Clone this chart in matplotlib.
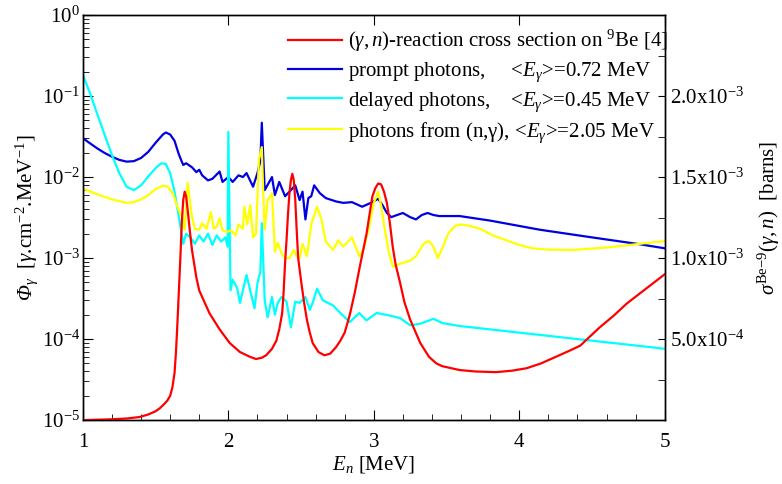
import matplotlib
matplotlib.use("Agg")
import matplotlib.pyplot as plt
from matplotlib.ticker import MultipleLocator, FixedLocator, LogLocator, NullFormatter

plt.rcParams["font.family"] = ["Liberation Serif", "DejaVu Serif"]
plt.rcParams["mathtext.fontset"] = "custom"
plt.rcParams["mathtext.rm"] = "Liberation Serif"
plt.rcParams["mathtext.it"] = "Liberation Serif:italic"
plt.rcParams["mathtext.bf"] = "Liberation Serif:bold"
plt.rcParams["mathtext.cal"] = "Liberation Serif:italic"

# prompt photons (left axis, gamma.cm^-2.MeV^-1)
E_prompt = [1.00, 1.05, 1.10, 1.15, 1.20, 1.25, 1.30, 1.35, 1.40, 1.45, 1.50, 1.55,
            1.57, 1.60, 1.63, 1.66, 1.68, 1.69, 1.71, 1.75, 1.78, 1.80, 1.82, 1.86,
            1.89, 1.94, 1.96, 2.00, 2.03, 2.07, 2.10, 2.125, 2.17, 2.20, 2.22, 2.23,
            2.25, 2.30, 2.32, 2.35, 2.39, 2.42, 2.46, 2.49, 2.51, 2.53, 2.55, 2.57,
            2.59, 2.63, 2.67, 2.74, 2.79, 2.85, 2.92, 2.99, 3.03, 3.06, 3.09, 3.12,
            3.16, 3.20, 3.25, 3.29, 3.33, 3.37, 3.41, 3.45, 3.59, 3.80, 4.14, 4.50,
            4.83, 5.00]
phi_prompt = [0.0302, 0.0260, 0.0225, 0.0198, 0.0178, 0.0163, 0.0155, 0.0157, 0.0172,
              0.0205, 0.0265, 0.0335, 0.0355, 0.0335, 0.0280, 0.0190, 0.0155, 0.0141,
              0.0148, 0.0132, 0.0115, 0.0123, 0.0105, 0.0091, 0.0095, 0.0117, 0.0087,
              0.0100, 0.0087, 0.0105, 0.0100, 0.0112, 0.0076, 0.0112, 0.0158, 0.0468,
              0.0069, 0.0100, 0.0060, 0.0087, 0.0058, 0.0066, 0.0079, 0.0052, 0.0066,
              0.0030, 0.0055, 0.0058, 0.0079, 0.0063, 0.0055, 0.0050, 0.0048, 0.0049,
              0.0043, 0.0049, 0.0054, 0.0045, 0.0036, 0.0032, 0.0034, 0.0036, 0.0032,
              0.0030, 0.0034, 0.0036, 0.0034, 0.0033, 0.0033, 0.0029, 0.00224, 0.0018,
              0.00148, 0.00132]

# delayed photons
E_delayed = [1.00, 1.05, 1.10, 1.15, 1.20, 1.25, 1.30, 1.35, 1.40, 1.45, 1.50, 1.54,
             1.57, 1.60, 1.63, 1.66, 1.69, 1.71, 1.74, 1.77, 1.80, 1.83, 1.86, 1.89,
             1.92, 1.95, 1.98, 1.995, 2.00, 2.015, 2.03, 2.06, 2.08, 2.125, 2.15, 2.18,
             2.20, 2.22, 2.23, 2.25, 2.27, 2.30, 2.32, 2.34, 2.365, 2.40, 2.43, 2.46,
             2.49, 2.53, 2.56, 2.58, 2.61, 2.65, 2.72, 2.77, 2.835, 2.90, 2.95, 3.02,
             3.11, 3.18, 3.25, 3.32, 3.41, 3.47, 3.59, 5.00]
phi_delayed = [0.182, 0.107, 0.059, 0.033, 0.0186, 0.0112, 0.0076, 0.0069, 0.0079,
               0.0102, 0.0129, 0.0148, 0.0145, 0.0112, 0.0066, 0.0032, 0.0015, 0.0020,
               0.00178, 0.0015, 0.0019, 0.0016, 0.0020, 0.00145, 0.0019, 0.0016, 0.0018,
               0.00138, 0.036, 0.00040, 0.00054, 0.00043, 0.00028, 0.00062, 0.00040,
               0.00024, 0.00049, 0.00068, 0.0027, 0.00030, 0.000186, 0.00033, 0.00020,
               0.00028, 0.00033, 0.00029, 0.00014, 0.00029, 0.00028, 0.00033, 0.00023,
               0.00028, 0.00042, 0.00030, 0.00026, 0.00021, 0.000162, 0.00021, 0.00017,
               0.00021, 0.000195, 0.000182, 0.000148, 0.000155, 0.000178, 0.000158,
               0.000145, 0.000076]

# photons from (n,gamma)
E_capture = [1.00, 1.10, 1.20, 1.30, 1.35, 1.40, 1.45, 1.50, 1.55, 1.58, 1.62, 1.65,
             1.67, 1.69, 1.70, 1.72, 1.75, 1.77, 1.80, 1.82, 1.85, 1.88, 1.90, 1.92,
             1.94, 1.96, 1.99, 2.02, 2.05, 2.07, 2.10, 2.11, 2.13, 2.15, 2.17, 2.19,
             2.21, 2.23, 2.24, 2.25, 2.27, 2.30, 2.32, 2.34, 2.365, 2.39, 2.42, 2.45,
             2.47, 2.49, 2.51, 2.54, 2.57, 2.61, 2.64, 2.67, 2.72, 2.755, 2.79, 2.85,
             2.90, 2.93, 2.96, 3.00, 3.03, 3.05, 3.07, 3.10, 3.13, 3.18, 3.25, 3.29,
             3.32, 3.35, 3.38, 3.41, 3.44, 3.46, 3.48, 3.50, 3.52, 3.56, 3.60, 3.66,
             3.73, 3.82, 3.91, 4.00, 4.09, 4.20, 4.37, 4.60, 4.83, 5.00]
phi_capture = [0.0072, 0.0061, 0.0053, 0.0048, 0.0049, 0.0053, 0.0060, 0.0071, 0.0078,
               0.0077, 0.0062, 0.0043, 0.0035, 0.0030, 0.00224, 0.0085, 0.0032, 0.0023,
               0.00224, 0.0027, 0.0023, 0.0037, 0.0023, 0.00245, 0.0031, 0.0022, 0.0021,
               0.0022, 0.0019, 0.0026, 0.0023, 0.0043, 0.0026, 0.0045, 0.0018, 0.0020,
               0.0162, 0.0234, 0.0063, 0.00224, 0.0052, 0.0063, 0.0012, 0.00155,
               0.00115, 0.0010, 0.0010, 0.00126, 0.00105, 0.0010, 0.0015, 0.00105,
               0.0026, 0.0043, 0.0030, 0.0016, 0.00126, 0.00166, 0.00138, 0.0018,
               0.00105, 0.0013, 0.0021, 0.0048, 0.0066, 0.0045, 0.0026, 0.00126,
               0.00078, 0.00085, 0.00093, 0.00105, 0.0013, 0.00155, 0.00162, 0.00138,
               0.0010, 0.0012, 0.00145, 0.0018, 0.0021, 0.0025, 0.0026, 0.0025, 0.0023,
               0.0019, 0.00166, 0.00145, 0.00132, 0.00127, 0.00126, 0.00135, 0.0015,
               0.00162]

# (gamma,n) cross section on 9Be (right axis, barns)
E_xs = [1.00, 1.20, 1.30, 1.39, 1.45, 1.50, 1.53, 1.56, 1.58, 1.60, 1.615, 1.63, 1.64,
        1.65, 1.66, 1.67, 1.68, 1.69, 1.70, 1.71, 1.72, 1.735, 1.75, 1.78, 1.80, 1.87,
        1.94, 2.01, 2.08, 2.15, 2.19, 2.23, 2.26, 2.30, 2.33, 2.35, 2.37, 2.38, 2.39,
        2.40, 2.41, 2.42, 2.43, 2.44, 2.45, 2.46, 2.47, 2.48, 2.50, 2.52, 2.54, 2.56,
        2.58, 2.62, 2.66, 2.70, 2.74, 2.77, 2.80, 2.835, 2.87, 2.90, 2.95, 2.99, 3.01,
        3.03, 3.05, 3.07, 3.09, 3.11, 3.13, 3.15, 3.18, 3.21, 3.25, 3.32, 3.38, 3.43,
        3.47, 3.59, 3.70, 3.84, 3.95, 4.05, 4.15, 4.25, 4.35, 4.42, 4.55, 4.65, 4.74,
        4.87, 5.00]
sigma_xs = [0.0, 5e-6, 1.0e-5, 1.9e-5, 3.5e-5, 5.5e-5, 7.4e-5, 1.0e-4, 1.2e-4, 1.5e-4,
            2.0e-4, 2.9e-4, 4.2e-4, 6.0e-4, 8.0e-4, 1.0e-3, 1.22e-3, 1.36e-3, 1.41e-3,
            1.38e-3, 1.30e-3, 1.17e-3, 1.05e-3, 8.8e-4, 8.0e-4, 6.6e-4, 5.6e-4, 4.75e-4,
            4.2e-4, 3.9e-4, 3.77e-4, 3.85e-4, 4.0e-4, 4.4e-4, 4.9e-4, 5.6e-4, 6.6e-4,
            7.9e-4, 9.7e-4, 1.11e-3, 1.27e-3, 1.40e-3, 1.48e-3, 1.52e-3, 1.48e-3,
            1.36e-3, 1.17e-3, 1.0e-3, 8.6e-4, 7.3e-4, 6.2e-4, 5.4e-4, 4.75e-4, 4.2e-4,
            4.0e-4, 4.1e-4, 4.5e-4, 4.9e-4, 5.4e-4, 6.5e-4, 7.9e-4, 9.3e-4, 1.15e-3,
            1.38e-3, 1.43e-3, 1.46e-3, 1.455e-3, 1.41e-3, 1.34e-3, 1.22e-3, 1.07e-3,
            9.6e-4, 8.5e-4, 7.3e-4, 6.2e-4, 4.75e-4, 3.9e-4, 3.5e-4, 3.33e-4, 3.09e-4,
            3.0e-4, 2.96e-4, 3.05e-4, 3.2e-4, 3.5e-4, 3.9e-4, 4.3e-4, 4.6e-4, 5.7e-4,
            6.45e-4, 7.2e-4, 8.1e-4, 9.0e-4]

right_ticks = [5e-4, 1e-3, 1.5e-3, 2e-3]
right_labels = [r"$\mathregular{5.0x10^{-4}}$", r"$\mathregular{1.0x10^{-3}}$",
                r"$\mathregular{1.5x10^{-3}}$", r"$\mathregular{2.0x10^{-3}}$"]

fs = 15
fig = plt.figure(figsize=(7.82, 4.84), dpi=100)
ax = fig.add_axes([0.106, 0.132, 0.744, 0.837])
ax2 = ax.twinx()

l_prompt, = ax.plot(E_prompt, phi_prompt, color="#0000e0", lw=1.6)
l_delayed, = ax.plot(E_delayed, phi_delayed, color="#00ffff", lw=1.6)
l_capture, = ax.plot(E_capture, phi_capture, color="#ffff00", lw=1.6)
l_xs, = ax2.plot(E_xs, sigma_xs, color="#ff0000", lw=1.6)

ax.set_yscale("log")
ax.set_xlim(1, 5)
ax.set_ylim(1e-5, 1)
ax2.set_ylim(0, 2.5e-3)

ax.xaxis.set_major_locator(MultipleLocator(1))
ax.xaxis.set_minor_locator(MultipleLocator(0.2))
ax.yaxis.set_major_locator(LogLocator(base=10, numticks=10))
ax.yaxis.set_minor_locator(LogLocator(base=10, subs=range(2, 10), numticks=10))
ax.yaxis.set_minor_formatter(NullFormatter())

ax2.yaxis.set_major_locator(FixedLocator(right_ticks))
ax2.set_yticklabels(right_labels)
ax2.yaxis.set_minor_locator(MultipleLocator(2.5e-4))

ax.tick_params(axis="x", which="major", direction="in", length=7, top=True, labelsize=fs, pad=9)
ax.tick_params(axis="x", which="minor", direction="in", length=4, top=False)
ax.tick_params(axis="y", which="major", direction="in", length=7, labelsize=fs, right=False, pad=2)
ax.tick_params(axis="y", which="minor", direction="in", length=4, right=False)
ax2.tick_params(axis="y", which="both", direction="in", length=5, labelsize=fs)

for a in (ax, ax2):
    for s in a.spines.values():
        s.set_linewidth(1.0)

ax.set_xlabel(r"$E_n$ [MeV]", fontsize=fs, labelpad=2)
ax.set_ylabel(r"$\mathcal{\Phi}_{\gamma}$  [$\gamma$.cm$^{-2}$.MeV$^{-1}$]", fontsize=fs, labelpad=1)
ax2.set_ylabel(r"$\sigma^{\mathrm{Be{-}9}}(\gamma,n)$  [barns]", fontsize=fs, labelpad=8)

handles = [l_xs, l_prompt, l_delayed, l_capture]
labels = [r"$(\gamma,n)$-reaction cross section on $^{9}$Be [4]",
          r"prompt photons,     <$E_{\gamma}$>=0.72 MeV",
          r"delayed photons,    <$E_{\gamma}$>=0.45 MeV",
          r"photons from (n,γ), <$E_{\gamma}$>=2.05 MeV"]
ax2.legend(handles, labels, loc="upper left", bbox_to_anchor=(0.368, 0.942),
           bbox_transform=fig.transFigure, frameon=False, fontsize=fs,
           handlelength=2.6, handletextpad=0.3, labelspacing=0.3,
           borderaxespad=0, borderpad=0)

fig.savefig("out.png", dpi=100)
